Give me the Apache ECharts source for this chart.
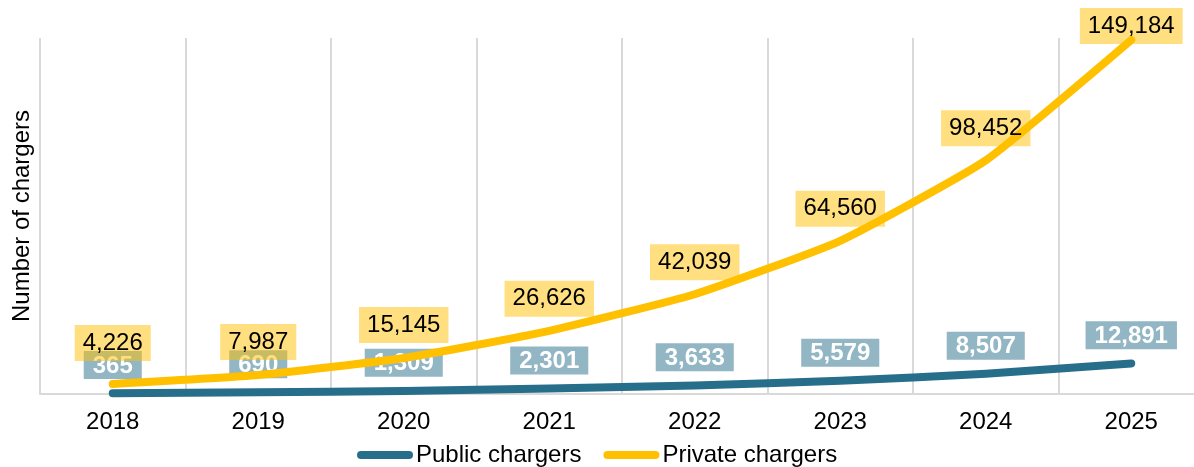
<!DOCTYPE html>
<html>
<head>
<meta charset="utf-8">
<script src="https://cdn.jsdelivr.net/npm/echarts@6/dist/echarts.min.js"></script>
<style>
html,body{margin:0;padding:0;background:#fff;}
#chart{width:1194px;height:467px;}
</style>
</head>
<body>
<div id="chart"></div>
<script>
const years = ['2018','2019','2020','2021','2022','2023','2024','2025'];
const publicChargers = [365, 690, 1309, 2301, 3633, 5579, 8507, 12891];
const privateChargers = [4226, 7987, 15145, 26626, 42039, 64560, 98452, 149184];
const privateLabelDistance = [23, 15, 15, 14, 14, 14, 14, -4];

const FONT = '"Liberation Sans", Arial, sans-serif';
const chart = echarts.init(document.getElementById('chart'));

chart.setOption({
  animation: false,
  backgroundColor: '#ffffff',
  textStyle: { fontFamily: FONT },
  grid: { left: 40, width: 1164, top: 38, height: 356, containLabel: false, outerBoundsMode: 'none' },
  legend: {
    left: 357, top: 443, padding: 0,
    itemWidth: 56, itemHeight: 8, itemGap: 22,
    icon: 'path://M4,0 H52 A4,4 0 0 1 52,8 H4 A4,4 0 0 1 4,0 Z',
    textStyle: { fontFamily: FONT, fontSize: 24, color: '#000', padding: [0, 0, 0, -2] },
    data: ['Public chargers', 'Private chargers']
  },
  xAxis: {
    type: 'category',
    data: years,
    boundaryGap: true,
    axisLine: { show: true, lineStyle: { color: '#d9d9d9', width: 2 } },
    axisTick: { show: false },
    axisLabel: { fontFamily: FONT, fontSize: 24, color: '#000', margin: 16 },
    splitLine: { show: true, lineStyle: { color: '#d9d9d9', width: 2 } }
  },
  yAxis: {
    type: 'value',
    min: 0, max: 150000,
    name: 'Number of chargers',
    nameLocation: 'middle',
    nameRotate: 90,
    nameGap: 6,
    nameTextStyle: { fontFamily: FONT, fontSize: 24, color: '#000' },
    axisLine: { show: false },
    axisTick: { show: false },
    axisLabel: { show: false },
    splitLine: { show: false }
  },
  series: [
    {
      name: 'Public chargers',
      type: 'line',
      data: publicChargers,
      smooth: 0.15,
      symbol: 'circle',
      symbolSize: 0.1,
      showSymbol: true,
      itemStyle: { color: '#276e8b' },
      lineStyle: { color: '#276e8b', width: 8, cap: 'round', join: 'round' },
      label: {
        show: true,
        position: 'top',
        distance: 14,
        fontFamily: FONT,
        fontSize: 24,
        fontWeight: 'bold',
        color: '#ffffff',
        backgroundColor: 'rgba(39,110,139,0.5)',
        padding: [3, 9, 1, 9],
        lineHeight: 24,
        formatter: p => p.value.toLocaleString('en-US')
      },
      z: 2
    },
    {
      name: 'Private chargers',
      type: 'line',
      data: privateChargers.map((v, i) => ({ value: v, label: { distance: privateLabelDistance[i] } })),
      smooth: 0.15,
      symbol: 'circle',
      symbolSize: 0.1,
      showSymbol: true,
      itemStyle: { color: '#ffc000' },
      lineStyle: { color: '#ffc000', width: 8, cap: 'round', join: 'round' },
      label: {
        show: true,
        position: 'top',
        fontFamily: FONT,
        fontSize: 24,
        color: '#000000',
        backgroundColor: 'rgba(255,192,0,0.5)',
        padding: [6, 8, 6, 8],
        lineHeight: 24,
        formatter: p => p.value.toLocaleString('en-US')
      },
      z: 3
    }
  ]
});
</script>
</body>
</html>
